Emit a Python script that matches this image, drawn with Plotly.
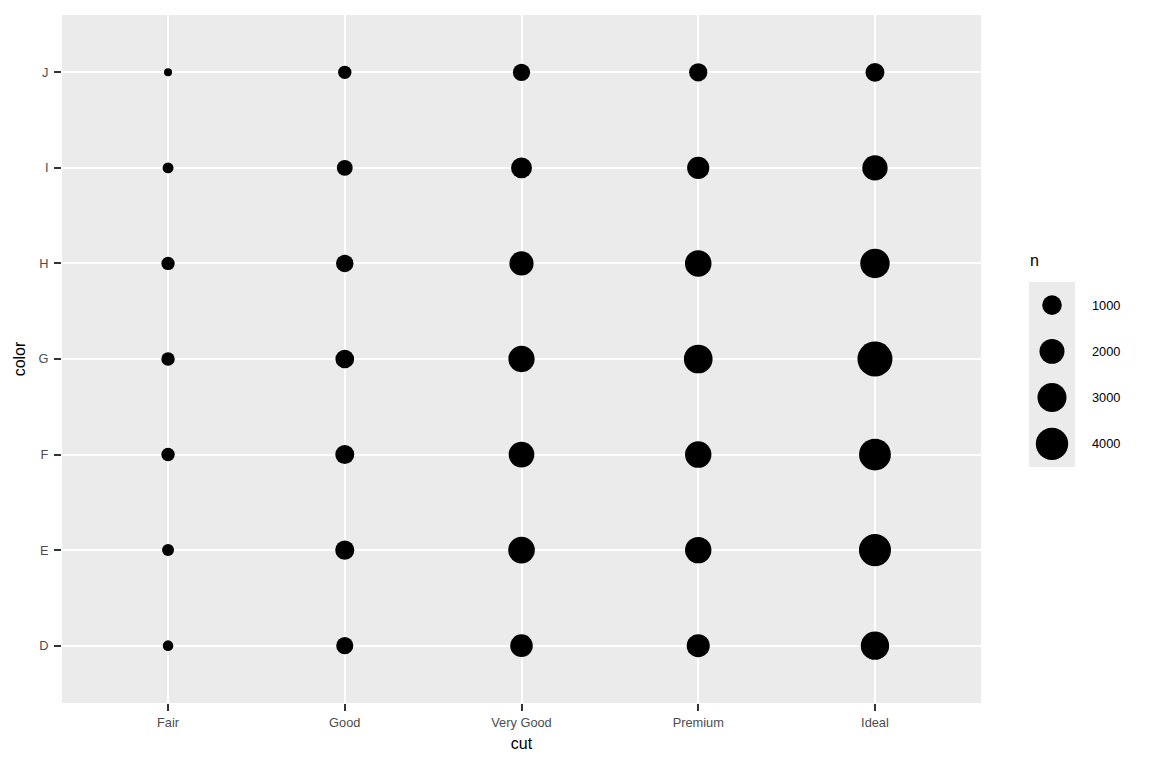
import plotly.graph_objects as go
import math

cuts = ["Fair", "Good", "Very Good", "Premium", "Ideal"]
colors = ["D", "E", "F", "G", "H", "I", "J"]
# counts n[cut][color]
n_fair = [163, 224, 312, 314, 303, 175, 119]
n_good = [662, 933, 909, 871, 702, 522, 307]
n_verygood = [1513, 2400, 2164, 2299, 1824, 1204, 678]
n_premium = [1603, 2337, 2331, 2924, 2360, 1428, 808]
n_ideal = [2834, 3903, 3826, 4884, 3115, 2093, 896]
legend_breaks = [1000, 2000, 3000, 4000]

counts = [n_fair, n_good, n_verygood, n_premium, n_ideal]
all_n = [v for row in counts for v in row]
nmin, nmax = min(all_n), max(all_n)


def diam(n):
    s = 1 + 5 * math.sqrt((n - nmin) / (nmax - nmin))
    return 2.6 + 5.4 * s


xs, ys, ss, ns = [], [], [], []
for c, row in zip(cuts, counts):
    for col, v in zip(colors, row):
        xs.append(c)
        ys.append(col)
        ss.append(diam(v))
        ns.append(v)

W, H = 1152, 768
L, R, T, B = 62, 77, 15, 65
pw = W - L - R
ph = H - T - B
main_right = 981
x1_end = (main_right - L) / pw
x2_start = (1029 - L) / pw
y2_lo = (703 - 467) / ph
y2_hi = (703 - 282) / ph

fig = go.Figure()
fig.add_trace(go.Scatter(
    x=xs, y=ys, mode="markers",
    marker=dict(size=ss, sizemode="diameter", color="black", opacity=1, line=dict(width=0)),
    customdata=ns, hovertemplate="cut=%{x}<br>color=%{y}<br>n=%{customdata}<extra></extra>",
    showlegend=False, xaxis="x", yaxis="y",
))

fig.add_trace(go.Scatter(
    x=[0.5] * len(legend_breaks), y=list(range(len(legend_breaks))), mode="markers",
    marker=dict(size=[diam(b) for b in legend_breaks], sizemode="diameter", color="black",
                opacity=1, line=dict(width=0)),
    hoverinfo="skip", showlegend=False, xaxis="x2", yaxis="y2",
))

tickfont = dict(family="Liberation Sans, Arial, sans-serif", size=12.8, color="#4D4D4D")
titlefont = dict(family="Liberation Sans, Arial, sans-serif", size=16, color="black")

annotations = []
for i, b in enumerate(legend_breaks):
    annotations.append(dict(
        x=(1090 - L) / pw, xref="paper", y=i, yref="y2", text=str(b), showarrow=False,
        xanchor="left", yanchor="middle",
        font=dict(family="Liberation Sans, Arial, sans-serif", size=12.8, color="black"),
    ))
annotations.append(dict(
    x=(1028 - L) / pw, xref="paper", y=(703 - 260) / ph, yref="paper", text="n", showarrow=False,
    xanchor="left", yanchor="middle", font=titlefont,
))

fig.update_layout(
    width=W, height=H,
    margin=dict(l=L, r=R, t=T, b=B, pad=0),
    paper_bgcolor="white", plot_bgcolor="#EBEBEB",
    font=dict(family="Liberation Sans, Arial, sans-serif"),
    xaxis=dict(
        domain=[0, x1_end], type="category", categoryorder="array", categoryarray=cuts,
        range=[-0.6, len(cuts) - 0.4], showgrid=True, gridcolor="white", gridwidth=2,
        zeroline=False, showline=False, ticks="outside", ticklen=7, tickwidth=2,
        tickcolor="#333333", tickfont=tickfont, ticklabelstandoff=1,
        title=dict(text="cut", font=titlefont, standoff=8), fixedrange=True,
    ),
    yaxis=dict(
        domain=[0, 1], type="category", categoryorder="array", categoryarray=colors,
        range=[-0.6, len(colors) - 0.4], showgrid=True, gridcolor="white", gridwidth=2,
        zeroline=False, showline=False, ticks="outside", ticklen=7, tickwidth=2,
        tickcolor="#333333", tickfont=tickfont, ticklabelstandoff=3,
        title=dict(text="color", font=titlefont, standoff=8), fixedrange=True,
    ),
    xaxis2=dict(domain=[x2_start, 1], range=[0, 1], anchor="y2", showgrid=False,
                zeroline=False, showticklabels=False, ticks="", fixedrange=True),
    yaxis2=dict(domain=[y2_lo, y2_hi], range=[len(legend_breaks) - 0.5, -0.5], anchor="x2",
                showgrid=False, zeroline=False, showticklabels=False, ticks="", fixedrange=True),
    annotations=annotations,
    showlegend=False,
)

fig.write_html("out.html", config={"displayModeBar": False},
               post_script="document.body.style.margin='0';document.body.style.padding='0';")
